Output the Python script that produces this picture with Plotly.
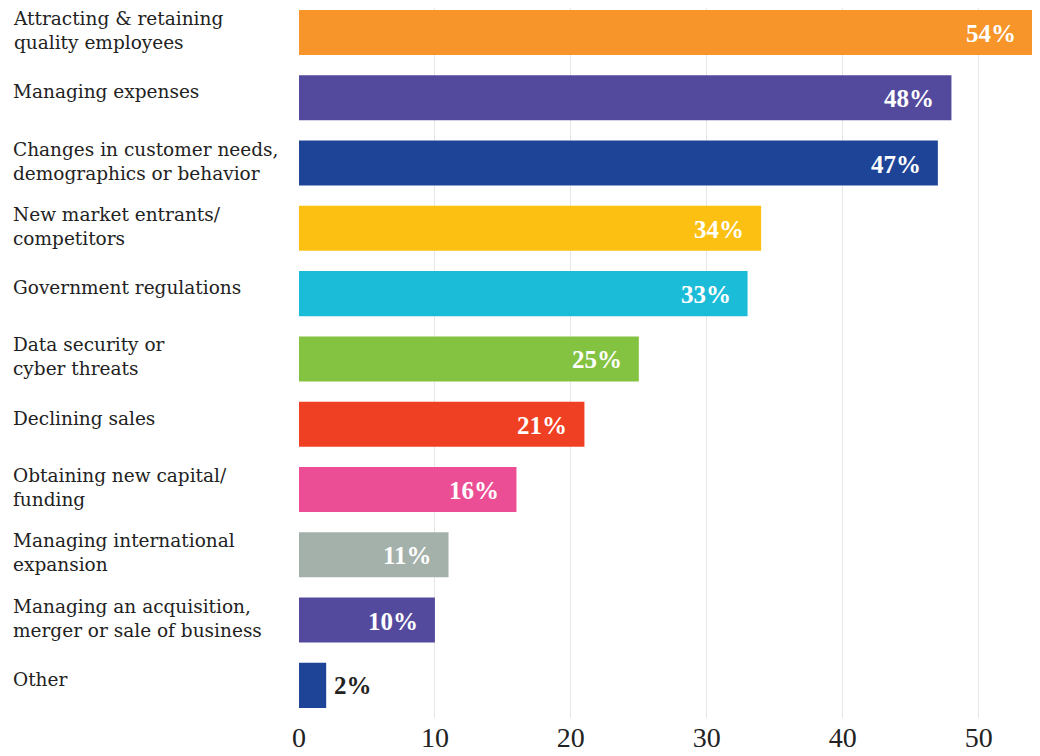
import plotly.graph_objects as go

categories = [
    "Attracting & retaining<br>quality employees",
    "Managing expenses",
    "Changes in customer needs,<br>demographics or behavior",
    "New market entrants/<br>competitors",
    "Government regulations",
    "Data security or<br>cyber threats",
    "Declining sales",
    "Obtaining new capital/<br>funding",
    "Managing international<br>expansion",
    "Managing an acquisition,<br>merger or sale of business",
    "Other",
]
values = [54, 48, 47, 34, 33, 25, 21, 16, 11, 10, 2]
colors = [
    "#F7952A", "#534A9E", "#1E4497", "#FCC012", "#1BBCD8", "#84C241",
    "#EF4023", "#EC4E95", "#A4B0AA", "#534A9E", "#1E4497",
]
x_ticks = [0, 10, 20, 30, 40, 50]

SERIF = "Liberation Serif, DejaVu Serif, serif"
LABEL_FONT = "DejaVu Serif, serif"
keys = list(range(len(categories)))

fig = go.Figure(go.Bar(
    x=values, y=keys, orientation="h",
    marker=dict(color=colors, line=dict(width=0)),
    hoverinfo="skip",
))

annotations = []
for k, cat, v in zip(keys, categories, values):
    two = "<br>" in cat
    annotations.append(dict(
        x=0, xref="paper", y=k, yref="y", xshift=-288, yshift=2 if two else 6,
        xanchor="left", yanchor="middle", align="left", showarrow=False,
        text=cat, font=dict(family=LABEL_FONT, size=18.5, color="#222222"),
    ))
    if v >= 5:
        annotations.append(dict(
            x=v, y=k, xref="x", yref="y", xanchor="right", xshift=-15,
            yshift=-1, showarrow=False, text=f"<b>{v}%</b>",
            font=dict(family=SERIF, size=25, color="white"),
        ))
    else:
        annotations.append(dict(
            x=v, y=k, xref="x", yref="y", xanchor="left", xshift=6,
            showarrow=False, text=f"<b>{v}%</b>",
            font=dict(family=SERIF, size=25, color="#222222"),
        ))

# page body has an 8px margin, so the figure is drawn 8px smaller
fig.update_layout(
    width=1032, height=748,
    margin=dict(l=291, r=7, t=0, b=38),
    paper_bgcolor="white", plot_bgcolor="white",
    bargap=0.31, showlegend=False,
    annotations=annotations,
    xaxis=dict(range=[0, 54], tickvals=x_ticks, showgrid=True,
               gridcolor="#e6e6e6", gridwidth=1, zeroline=False,
               showline=False, ticks="",
               tickfont=dict(family=SERIF, size=28, color="#222222")),
    yaxis=dict(range=[10.5, -0.375], showticklabels=False, showgrid=False,
               zeroline=False, showline=False, ticks=""),
)

fig.write_html("out.html")
